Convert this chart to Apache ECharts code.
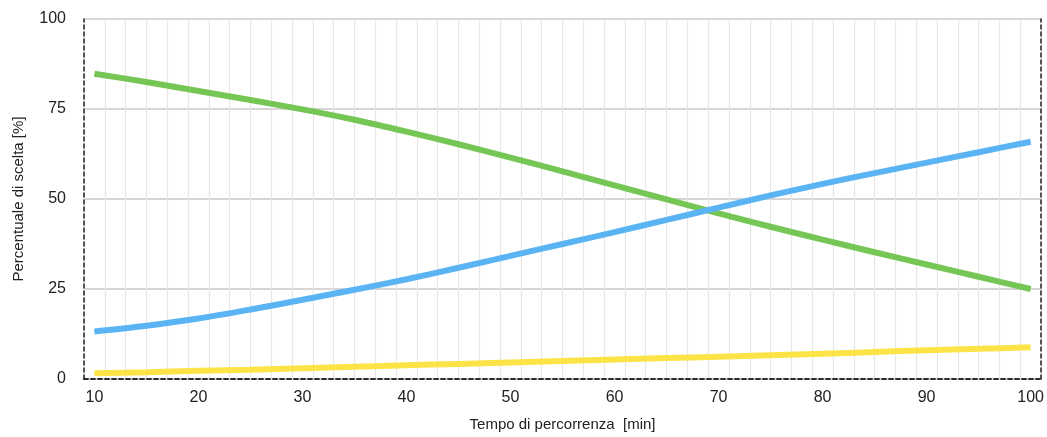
<!DOCTYPE html>
<html>
<head>
<meta charset="utf-8">
<script src="https://cdn.jsdelivr.net/npm/echarts@6/dist/echarts.min.js"></script>
<style>
html,body{margin:0;padding:0;background:#fff;}
#chart{width:1047px;height:437px;}
</style>
</head>
<body>
<div id="chart"></div>
<script>
const times = [10, 15, 20, 25, 30, 35, 40, 45, 50, 55, 60, 65, 70, 75, 80, 85, 90, 95, 100];
const greenSeries = [84.8, 82.5, 80.0, 77.5, 74.9, 72.0, 68.7, 65.2, 61.5, 57.7, 53.8, 49.9, 46.0, 42.3, 38.7, 35.2, 31.8, 28.4, 25.0];
const blueSeries = [13.2, 14.8, 16.8, 19.3, 22.0, 24.8, 27.7, 30.9, 34.2, 37.5, 40.8, 44.2, 47.6, 51.0, 54.2, 57.2, 60.1, 63.0, 65.9];
const yellowSeries = [1.6, 1.9, 2.3, 2.6, 3.0, 3.4, 3.8, 4.2, 4.6, 5.0, 5.4, 5.8, 6.2, 6.6, 7.0, 7.5, 8.0, 8.4, 8.8];
const yTicks = [0, 25, 50, 75, 100];
const xLabels = [10, 20, 30, 40, 50, 60, 70, 80, 90, 100];

const pairs = arr => times.map((t, i) => [t, arr[i]]);
const font = '"Liberation Sans", Arial, Helvetica, sans-serif';
const dashedLine = { show: true, lineStyle: { color: '#222', type: [4, 3], width: 1.5 } };

const chart = echarts.init(document.getElementById('chart'));
chart.setOption({
  backgroundColor: '#fff',
  animation: false,
  grid: { left: 84, right: 5, top: 19, bottom: 52, containLabel: false },
  xAxis: [
    {
      type: 'value', min: 9, max: 101, interval: 1, position: 'bottom',
      axisLine: dashedLine, axisTick: { show: false }, splitLine: { show: false },
      axisLabel: {
        color: '#222', fontSize: 16, fontFamily: font, margin: 11,
        formatter: v => xLabels.indexOf(v) >= 0 ? String(v) : ''
      },
      name: 'Tempo di percorrenza  [min]', nameLocation: 'middle', nameGap: 38,
      nameTextStyle: { color: '#222', fontSize: 15, fontFamily: font }
    },
    {
      type: 'value', min: 9, max: 101, interval: 2, position: 'top',
      axisLine: dashedLine, axisTick: { show: false }, axisLabel: { show: false },
      splitLine: { show: true, lineStyle: { color: '#e6e6e6', width: 1.2 } }
    }
  ],
  yAxis: [
    {
      type: 'value', min: 0, max: 100, interval: 25, position: 'left',
      axisLine: dashedLine, axisTick: { show: false },
      splitLine: { show: true, lineStyle: { color: '#c8c8c8', width: 1.5 } },
      axisLabel: { color: '#222', fontSize: 16, fontFamily: font, margin: 18,
        formatter: v => yTicks.indexOf(v) >= 0 ? String(v) : '' },
      name: 'Percentuale di scelta [%]', nameLocation: 'middle', nameGap: 58, nameRotate: 90,
      nameTextStyle: { color: '#222', fontSize: 15, fontFamily: font }
    },
    {
      type: 'value', min: 0, max: 100, interval: 25, position: 'right',
      axisLine: dashedLine, axisTick: { show: false }, axisLabel: { show: false },
      splitLine: { show: false }
    }
  ],
  series: [
    { type: 'line', xAxisIndex: 0, yAxisIndex: 0, data: pairs(greenSeries), smooth: 0.3, showSymbol: false,
      lineStyle: { color: '#76c656', width: 6 }, z: 3 },
    { type: 'line', xAxisIndex: 0, yAxisIndex: 0, data: pairs(blueSeries), smooth: 0.3, showSymbol: false,
      lineStyle: { color: '#5ab4f4', width: 6 }, z: 4 },
    { type: 'line', xAxisIndex: 0, yAxisIndex: 0, data: pairs(yellowSeries), smooth: 0.3, showSymbol: false,
      lineStyle: { color: '#fce447', width: 6 }, z: 3 }
  ]
});
</script>
</body>
</html>
